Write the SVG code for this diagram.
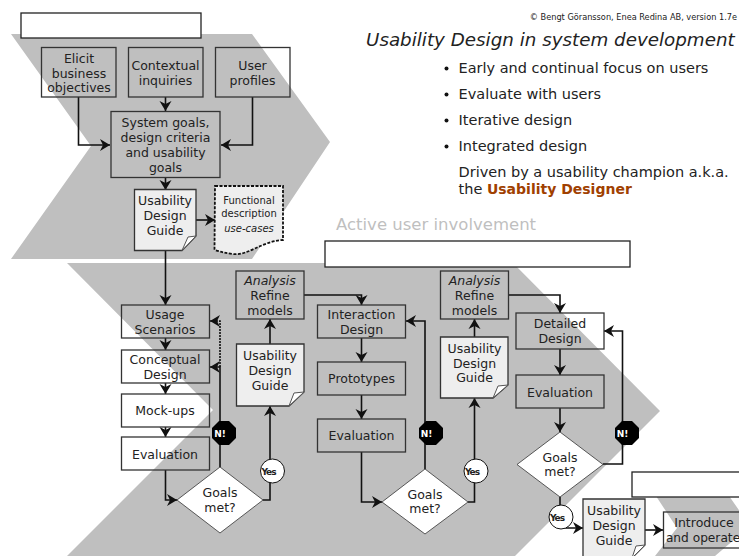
<svg xmlns="http://www.w3.org/2000/svg" width="739" height="556" viewBox="0 0 739 556">
<style>
text{font-family:"DejaVu Sans",Verdana,sans-serif;font-size:12.5px;fill:#222;text-anchor:middle}
.box{fill:none;stroke:#333;stroke-width:1.3}
.wbox{fill:#fff;stroke:#222;stroke-width:1.3}
.doc{fill:#eee;stroke:#333;stroke-width:1.3}
.fold{fill:#fff;stroke:#555;stroke-width:1}
.dia{fill:#fff;stroke:#333;stroke-width:.8}
.c{fill:none;stroke:#111;stroke-width:1.6}
.l{text-anchor:start;font-size:14.500px}
.oct{fill:#000}
.no{fill:#fff;font-size:9px;font-weight:bold}
.yes{fill:#222;font-size:9px;font-weight:bold;letter-spacing:-1px}
.ci{fill:#fff;stroke:#111}
.bu{fill:#111}
</style>
<defs>
<marker id="a" markerUnits="userSpaceOnUse" markerWidth="14" markerHeight="14" refX="10" refY="6.500" orient="auto"><path d="M0 0.500L10 6.500L0 12.500L3 6.500Z" fill="#111"/></marker>
</defs>
<polygon points="11,34 252,34 330,142 252,259 11,259 91,146" fill="#bfbfbf"/>
<polygon points="67,263 513,263 660,411 515,556 67,556 213,410" fill="#bfbfbf"/>
<polygon points="654,493 727,493 750,526 715,556 655,556 677,528" fill="#bfbfbf"/>
<g id="labels">
<rect class="wbox" x="21" y="13" width="180" height="25"/>
<rect class="wbox" x="325" y="241" width="305" height="26"/>
<rect class="wbox" x="632" y="472" width="110" height="25"/>
</g>
<g id="connectors">
<path class="c" d="M78.500 97V145H110" marker-end="url(#a)"/>
<path class="c" d="M165.500 97V111" marker-end="url(#a)"/>
<path class="c" d="M252.500 97V145H221" marker-end="url(#a)"/>
<path class="c" d="M165.500 177V190" marker-end="url(#a)"/>
<path class="c" d="M196 220H215" marker-end="url(#a)"/>
<path class="c" d="M165.500 250V305" marker-end="url(#a)"/>
<path class="c" d="M165.500 338V350" marker-end="url(#a)"/>
<path class="c" d="M165.500 383V394" marker-end="url(#a)"/>
<path class="c" d="M165.500 427V437" marker-end="url(#a)"/>
<path class="c" d="M165.500 470V500H177" marker-end="url(#a)"/>
<path class="c" d="M220 467V367H210" marker-end="url(#a)"/>
<path class="c" d="M220 367V321H210" stroke-dasharray="2 1" marker-end="url(#a)"/>
<path class="c" d="M263 500H270V406" marker-end="url(#a)"/>
<path class="c" d="M270 344V319" marker-end="url(#a)"/>
<path class="c" d="M304 295H361.500V305" marker-end="url(#a)"/>
<path class="c" d="M361.500 338V362" marker-end="url(#a)"/>
<path class="c" d="M361.500 395V419" marker-end="url(#a)"/>
<path class="c" d="M361.500 452V502H382" marker-end="url(#a)"/>
<path class="c" d="M425 469V321H406" marker-end="url(#a)"/>
<path class="c" d="M468 502H474.500V398" marker-end="url(#a)"/>
<path class="c" d="M474.500 337V319" marker-end="url(#a)"/>
<path class="c" d="M508 295H560V313" marker-end="url(#a)"/>
<path class="c" d="M560 349V375" marker-end="url(#a)"/>
<path class="c" d="M560 408V432" marker-end="url(#a)"/>
<path class="c" d="M603 464H622.500V331H604" marker-end="url(#a)"/>
<path class="c" d="M560 497V528H583" marker-end="url(#a)"/>
<path class="c" d="M645 530H663" marker-end="url(#a)"/>
</g>
<g id="elicit"><rect class="box" x="41.500" y="47.500" width="74.500" height="49.500"/><text x="79" y="63">Elicit</text><text x="79" y="78">business</text><text x="79" y="92">objectives</text></g>
<g id="contextual"><rect class="box" x="128.500" y="47.500" width="74.500" height="49.500"/><text x="165.500" y="70">Contextual</text><text x="165.500" y="85">inquiries</text></g>
<g id="profiles"><rect class="box" x="215.500" y="47.500" width="74.500" height="49.500"/><text x="252.500" y="70">User</text><text x="252.500" y="85">profiles</text></g>
<g id="system"><rect class="box" x="111" y="111.500" width="109" height="66"/><text x="165.500" y="127">System goals,</text><text x="165.500" y="142">design criteria</text><text x="165.500" y="157">and usability</text><text x="165.500" y="172">goals</text></g>
<g id="guide1"><path class="doc" d="M134.500 189.500H196V236L182 250.500H134.500Z"/><path class="fold" d="M196 236L188 237L182 250.500Z"/><text x="165" y="205">Usability</text><text x="165" y="220">Design</text><text x="165" y="235">Guide</text></g>
<g id="functional"><path d="M215 186H283V240C262 241 248 256 233 254C226 253 221 252 214.500 250Z" fill="#eee" stroke="#111" stroke-width="1.800" stroke-dasharray="3 1.500"/><text x="249" y="204" style="font-size:10px">Functional</text><text x="249" y="217" style="font-size:10px">description</text><text x="249" y="232" style="font-size:10px;font-style:italic">use-cases</text></g>
<g id="copyright"><text x="737" y="20" style="font-size:8.200px;text-anchor:end">© Bengt Göransson, Enea Redina AB, version 1.7e</text></g>
<g id="heading"><text x="366" y="46" style="font-size:18.300px;font-style:italic;text-anchor:start">Usability Design in system development</text></g>
<g id="bullets">
<circle class="bu" cx="446.500" cy="68.500" r="2"/><text class="l" x="458.500" y="73">Early and continual focus on users</text>
<circle class="bu" cx="446.500" cy="94.500" r="2"/><text class="l" x="458.500" y="99">Evaluate with users</text>
<circle class="bu" cx="446.500" cy="120.500" r="2"/><text class="l" x="458.500" y="125">Iterative design</text>
<circle class="bu" cx="446.500" cy="146.500" r="2"/><text class="l" x="458.500" y="151">Integrated design</text>
<text class="l" x="458.500" y="177">Driven by a usability champion a.k.a.</text>
<text class="l" x="458.500" y="194">the <tspan font-weight="bold" fill="#a04000" style="font-size:14px">Usability Designer</tspan></text>
</g>
<g id="involvement"><text x="336" y="230" style="font-size:16.500px;fill:#bfbfbf;text-anchor:start">Active user involvement</text></g>
<g id="usage"><rect class="box" x="121.500" y="305" width="88" height="33"/><text x="165" y="319">Usage</text><text x="165" y="334">Scenarios</text></g>
<g id="conceptual"><rect class="box" x="121.500" y="350" width="88" height="33"/><text x="165" y="364">Conceptual</text><text x="165" y="379">Design</text></g>
<g id="mockups"><rect class="box" x="121.500" y="394" width="88" height="33"/><text x="165" y="415">Mock-ups</text></g>
<g id="eval1"><rect class="box" x="121.500" y="437" width="88" height="33"/><text x="165" y="459">Evaluation</text></g>
<g id="goals1"><polygon class="dia" points="220,467 263,500 220,533 177,500"/><text x="220" y="497">Goals</text><text x="220" y="512">met?</text></g>
<g id="no1"><polygon class="oct" points="219,421 229,421 236,428 236,438 229,445 219,445 212,438 212,428"/><text class="no" x="220" y="437">N!</text></g>
<g id="yes1"><circle class="ci" cx="272.500" cy="471" r="12"/><text class="yes" x="268.500" y="475">Yes</text></g>
<g id="analysis1"><rect class="box" x="236" y="271" width="68" height="48"/><text x="270" y="285" style="font-style:italic">Analysis</text><text x="270" y="300">Refine</text><text x="270" y="315">models</text></g>
<g id="guide2"><path class="doc" d="M236.500 344H304V392L289 406H236.500Z"/><path class="fold" d="M304 392L294 393L289 406Z"/><text x="270" y="360">Usability</text><text x="270" y="375">Design</text><text x="270" y="390">Guide</text></g>
<g id="interaction"><rect class="box" x="317.500" y="305" width="88" height="33"/><text x="361.500" y="319">Interaction</text><text x="361.500" y="334">Design</text></g>
<g id="prototypes"><rect class="box" x="317.500" y="362" width="88" height="33"/><text x="361.500" y="383">Prototypes</text></g>
<g id="eval2"><rect class="box" x="317.500" y="419" width="88" height="33"/><text x="361.500" y="440">Evaluation</text></g>
<g id="goals2"><polygon class="dia" points="425,469 468,502 425,534 382,502"/><text x="425" y="499">Goals</text><text x="425" y="513">met?</text></g>
<g id="no2"><polygon class="oct" points="426,421 436,421 443,428 443,438 436,445 426,445 419,438 419,428"/><text class="no" x="426.500" y="437">N!</text></g>
<g id="yes2"><circle class="ci" cx="476" cy="471" r="12"/><text class="yes" x="472" y="475">Yes</text></g>
<g id="analysis2"><rect class="box" x="440.500" y="271" width="68" height="48"/><text x="474.500" y="285" style="font-style:italic">Analysis</text><text x="474.500" y="300">Refine</text><text x="474.500" y="315">models</text></g>
<g id="guide3"><path class="doc" d="M440.500 337H508V385L493 398H440.500Z"/><path class="fold" d="M508 385L498 386L493 398Z"/><text x="474.500" y="353">Usability</text><text x="474.500" y="368">Design</text><text x="474.500" y="382">Guide</text></g>
<g id="detailed"><rect class="box" x="516" y="313" width="88" height="36"/><text x="560" y="328">Detailed</text><text x="560" y="343">Design</text></g>
<g id="eval3"><rect class="box" x="516" y="375" width="88" height="33"/><text x="560" y="397">Evaluation</text></g>
<g id="goals3"><polygon class="dia" points="560,432 603,464.500 560,497 517,464.500"/><text x="560" y="462">Goals</text><text x="560" y="476">met?</text></g>
<g id="no3"><polygon class="oct" points="622,421 632,421 639,428 639,438 632,445 622,445 615,438 615,428"/><text class="no" x="622.500" y="437">N!</text></g>
<g id="yes3"><circle class="ci" cx="561" cy="517" r="12"/><text class="yes" x="557" y="521">Yes</text></g>
<g id="guide4"><path class="doc" d="M583 499H645V545L632 558H583Z"/><path class="fold" d="M645 545L636 546L632 558Z"/><text x="614" y="515">Usability</text><text x="614" y="530">Design</text><text x="614" y="545">Guide</text></g>
<g id="introduce"><rect class="box" x="663.500" y="512" width="80" height="36"/><text x="704" y="527">Introduce</text><text x="703" y="542" style="font-size:12.200px">and operate</text></g>
</svg>
